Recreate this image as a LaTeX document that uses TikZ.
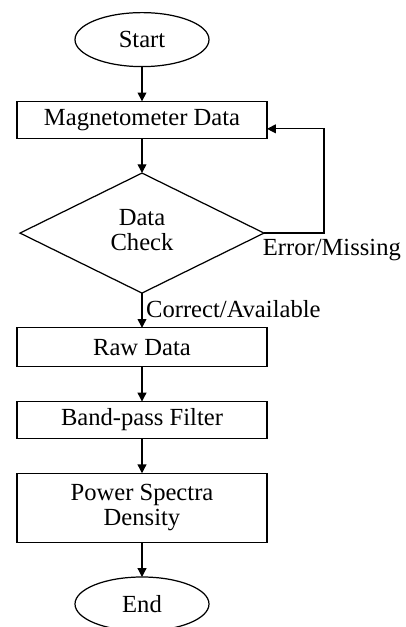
\documentclass[tikz,border=0pt]{standalone}
\usepackage{fontspec}
\setmainfont{Liberation Serif}
\usetikzlibrary{matrix,arrows.meta,shapes.geometric}
\newcommand{\twolines}[2]{\begin{tabular}{@{}c@{}}#1\\#2\end{tabular}}

\begin{document}
\begin{tikzpicture}[line width=0.7pt, >={Triangle[length=5pt,width=5pt]},
  every node/.style={font=\fontsize{14}{14.5}\selectfont},
  term/.style={draw, ellipse, minimum width=2.68cm, minimum height=1.08cm, inner sep=0pt},
  box/.style={draw, rectangle, minimum width=5cm, minimum height=0.74cm},
  check/.style={draw, diamond, minimum width=4.88cm, minimum height=2.4cm, inner sep=0pt}]
  \useasboundingbox (-2.84,0.24) rectangle (5.28,-12.3);
  \matrix (m) [matrix of nodes, row sep=0.67cm, inner sep=0pt, outer sep=0pt, nodes={anchor=center}, anchor=north] at (0,0)
  {
|[term]| Start \\
|[box]| Magnetometer Data \\
|[check]| \twolines{Data}{Check} \\
|[box, minimum height=0.78cm]| Raw Data \\
|[box]| Band-pass Filter \\
|[box, minimum height=1.38cm]| \twolines{Power Spectra}{Density} \\
|[term]| End \\  };
  \path[->]
  (m-1-1) edge (m-2-1)
  (m-2-1) edge (m-3-1)
  (m-3-1) edge node [right, pos=0.45, inner xsep=2pt] {Correct/Available} (m-4-1)
  (m-4-1) edge (m-5-1)
  (m-5-1) edge (m-6-1)
  (m-6-1) edge (m-7-1)
;
  \draw[->] (m-3-1.east) -- ++(1.2,0) |- ([yshift=-0.18cm]m-2-1.east);
  \node (err) [anchor=north west, inner xsep=0pt, inner ysep=3pt, xshift=-1pt] at (m-3-1.east) {Error/Missing};
\end{tikzpicture}
\end{document}
